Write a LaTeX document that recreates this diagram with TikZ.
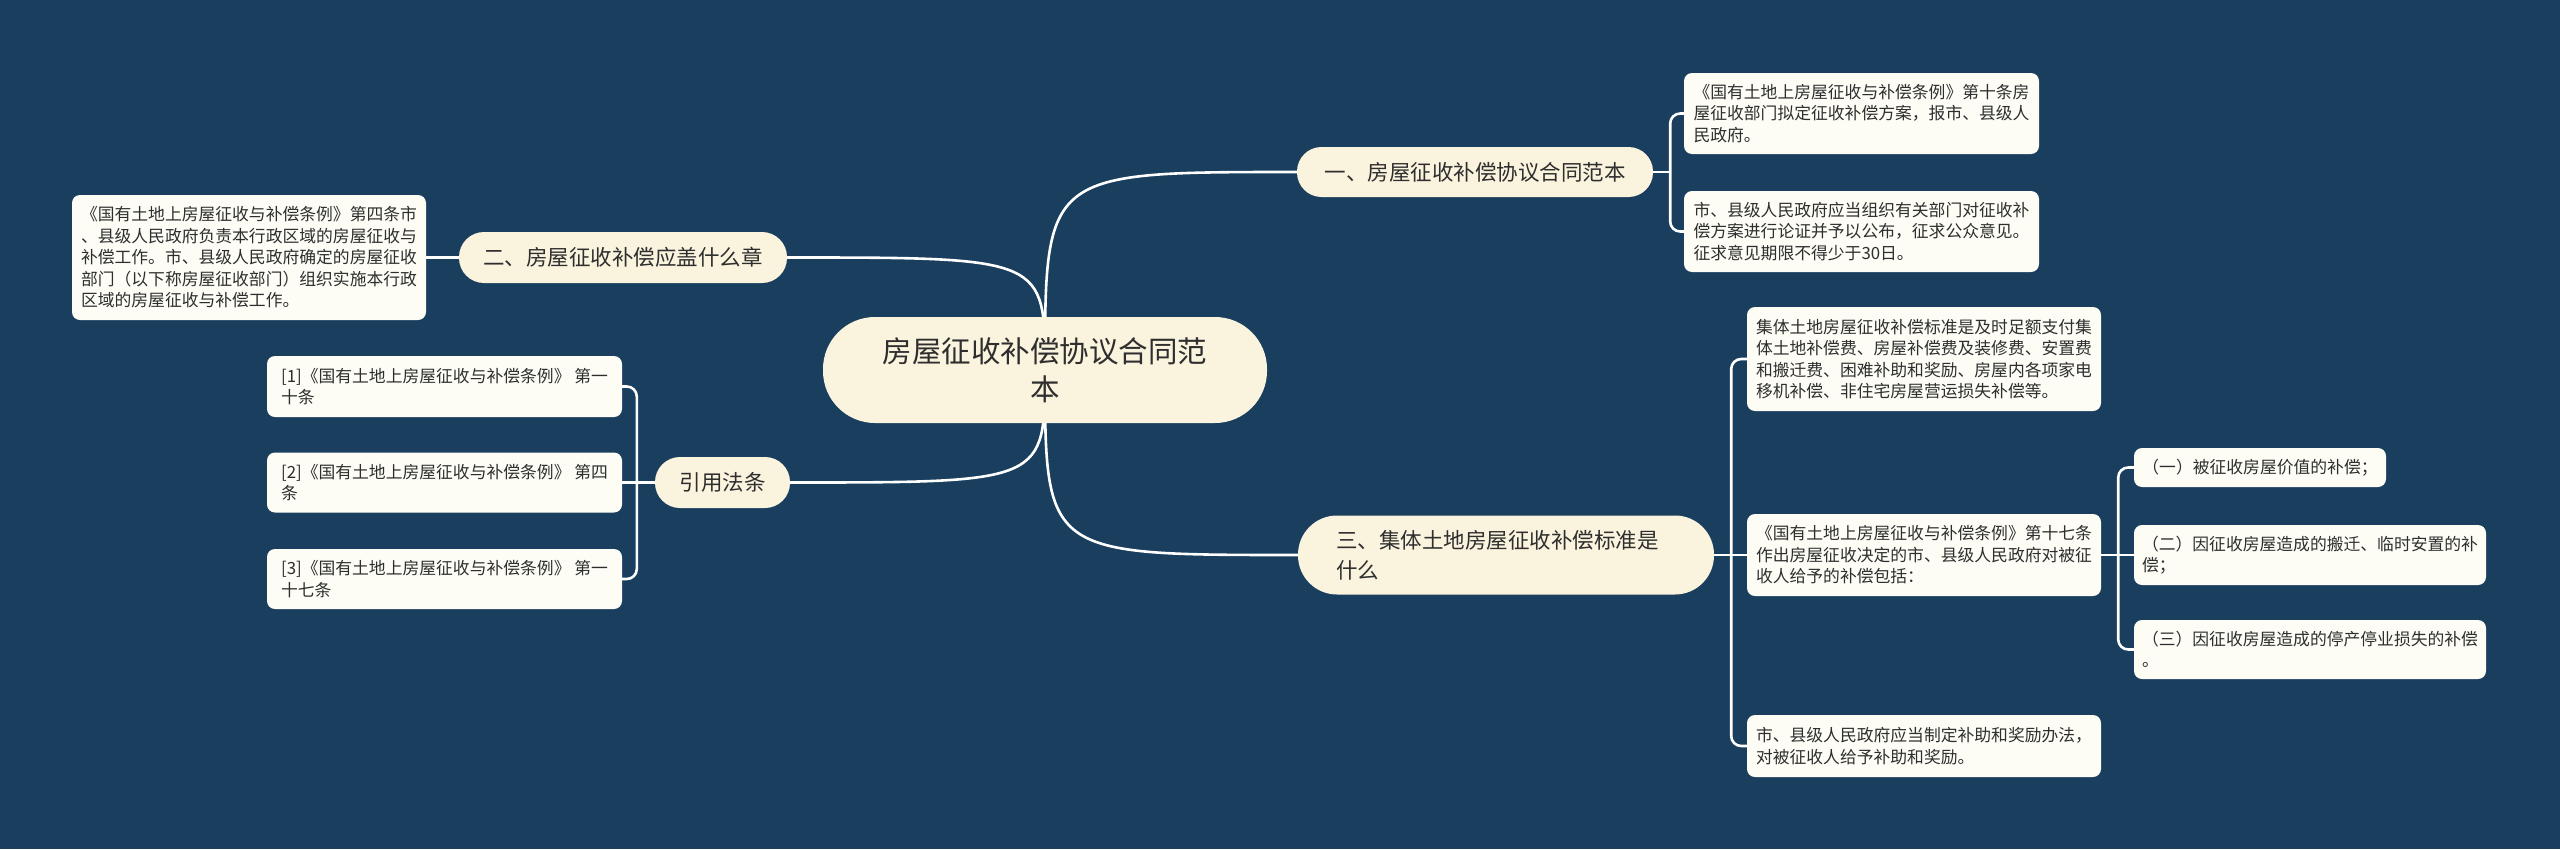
\documentclass[tikz,border=0pt]{standalone}
\usepackage{fontspec}
\setmainfont{Noto Sans CJK SC}
\usetikzlibrary{calc}
\definecolor{bgcol}{HTML}{193E5E}
\definecolor{maincol}{HTML}{FAF3DE}
\definecolor{leafcol}{HTML}{FDFDF6}
\definecolor{txtcol}{HTML}{2E2E2E}
\pgfdeclarelayer{bglayer}
\pgfdeclarelayer{linelayer}
\pgfsetlayers{bglayer,linelayer,main}
\begin{document}
\begin{tikzpicture}[x=1pt,y=-1pt,
  every node/.style={inner sep=0pt, text=txtcol},
  mainbox/.style={fill=maincol, font=\fontsize{21.5}{30}\selectfont},
  leafbox/.style={fill=leafcol, rounded corners=8pt, font=\fontsize{16.8}{21.5}\selectfont, align=left},
  conn/.style={draw=white, line width=2.6pt},
  bracket/.style={draw=white, line width=2.6pt, rounded corners=10pt}
]
\useasboundingbox (0,0) rectangle (2560,849);
\begin{pgfonlayer}{bglayer}
  \fill[bgcol] (0,0) rectangle (2560,849);
\end{pgfonlayer}

% centre
\node[mainbox, minimum width=444, minimum height=106, rounded corners=52, align=center,
      font=\fontsize{29.5}{38}\selectfont] (c) at (1045,370) {房屋征收补偿协议合同范\\本};

% main branches
\node[mainbox, minimum width=356, minimum height=50, rounded corners=24.5] (n1) at (1475,172) {一、房屋征收补偿协议合同范本};
\node[mainbox, minimum width=328, minimum height=51, rounded corners=25] (n2) at (623,257.5) {二、房屋征收补偿应盖什么章};
\node[mainbox, minimum width=135, minimum height=51, rounded corners=25] (nr) at (722.5,482.5) {引用法条};
\node[mainbox, minimum width=416, minimum height=79, rounded corners=39, align=left, text width=340] (n3) at (1506,555) {三、集体土地房屋征收补偿标准是\\什么};

% leaves of branch 1
\node[leafbox, minimum width=355, minimum height=81] (l1a) at (1861.5,113.5) {《国有土地上房屋征收与补偿条例》第十条房\\屋征收部门拟定征收补偿方案，报市、县级人\\民政府。};
\node[leafbox, minimum width=355, minimum height=81] (l1b) at (1861.5,231.5) {市、县级人民政府应当组织有关部门对征收补\\偿方案进行论证并予以公布，征求公众意见。\\征求意见期限不得少于30日。};

% leaf of branch 2
\node[leafbox, minimum width=354, minimum height=125] (l2) at (249,257.5) {《国有土地上房屋征收与补偿条例》第四条市\\、县级人民政府负责本行政区域的房屋征收与\\补偿工作。市、县级人民政府确定的房屋征收\\部门（以下称房屋征收部门）组织实施本行政\\区域的房屋征收与补偿工作。};

% references
\node[leafbox, minimum width=355, minimum height=61] (r1) at (444.5,386.5) {[1]《国有土地上房屋征收与补偿条例》 第一\\十条};
\node[leafbox, minimum width=355, minimum height=60] (r2) at (444.5,482.5) {[2]《国有土地上房屋征收与补偿条例》 第四\\条};
\node[leafbox, minimum width=355, minimum height=60] (r3) at (444.5,579) {[3]《国有土地上房屋征收与补偿条例》 第一\\十七条};

% leaves of branch 3
\node[leafbox, minimum width=354, minimum height=104] (l3a) at (1924,359) {集体土地房屋征收补偿标准是及时足额支付集\\体土地补偿费、房屋补偿费及装修费、安置费\\和搬迁费、困难补助和奖励、房屋内各项家电\\移机补偿、非住宅房屋营运损失补偿等。};
\node[leafbox, minimum width=354, minimum height=82] (l3b) at (1924,555) {《国有土地上房屋征收与补偿条例》第十七条\\作出房屋征收决定的市、县级人民政府对被征\\收人给予的补偿包括：};
\node[leafbox, minimum width=354, minimum height=62] (l3c) at (1924,746) {市、县级人民政府应当制定补助和奖励办法，\\对被征收人给予补助和奖励。};

% sub leaves
\node[leafbox, minimum width=252, minimum height=39] (s1) at (2260,467.5) {（一）被征收房屋价值的补偿；};
\node[leafbox, minimum width=352, minimum height=60] (s2) at (2310,555) {（二）因征收房屋造成的搬迁、临时安置的补\\偿；};
\node[leafbox, minimum width=352, minimum height=59] (s3) at (2310,649.5) {（三）因征收房屋造成的停产停业损失的补偿\\。};

% junction points
\coordinate (j1) at ($(n1.east)+(17,0)$);
\coordinate (jr) at ($(nr.west)+(-18,0)$);
\coordinate (j3) at ($(n3.east)+(17,0)$);
\coordinate (js) at ($(l3b.east)+(17,0)$);

\begin{pgfonlayer}{linelayer}
  % centre to main branches
  \draw[conn] (c.center) .. controls (c.center |- n1.west) .. (n1.west);
  \draw[conn] (c.center) .. controls (c.center |- n2.east) .. (n2.east);
  \draw[conn] (c.center) .. controls (c.center |- nr.east) .. (nr.east);
  \draw[conn] (c.center) .. controls (c.center |- n3.west) .. (n3.west);
  % branch 1
  \draw[conn] (n1.east) -- (j1);
  \draw[bracket] (j1) |- (l1a.west);
  \draw[bracket] (j1) |- (l1b.west);
  % branch 2
  \draw[conn] (n2.west) -- (l2.east);
  % references
  \draw[conn] (nr.west) -- (jr);
  \draw[bracket] (jr) |- (r1.east);
  \draw[conn] (jr) -- (r2.east);
  \draw[bracket] (jr) |- (r3.east);
  % branch 3
  \draw[conn] (n3.east) -- (j3);
  \draw[bracket] (j3) |- (l3a.west);
  \draw[conn] (j3) -- (l3b.west);
  \draw[bracket] (j3) |- (l3c.west);
  % sub leaves
  \draw[conn] (l3b.east) -- (js);
  \draw[bracket] (js) |- (s1.west);
  \draw[conn] (js) -- (s2.west);
  \draw[bracket] (js) |- (s3.west);
\end{pgfonlayer}
\end{tikzpicture}
\end{document}
